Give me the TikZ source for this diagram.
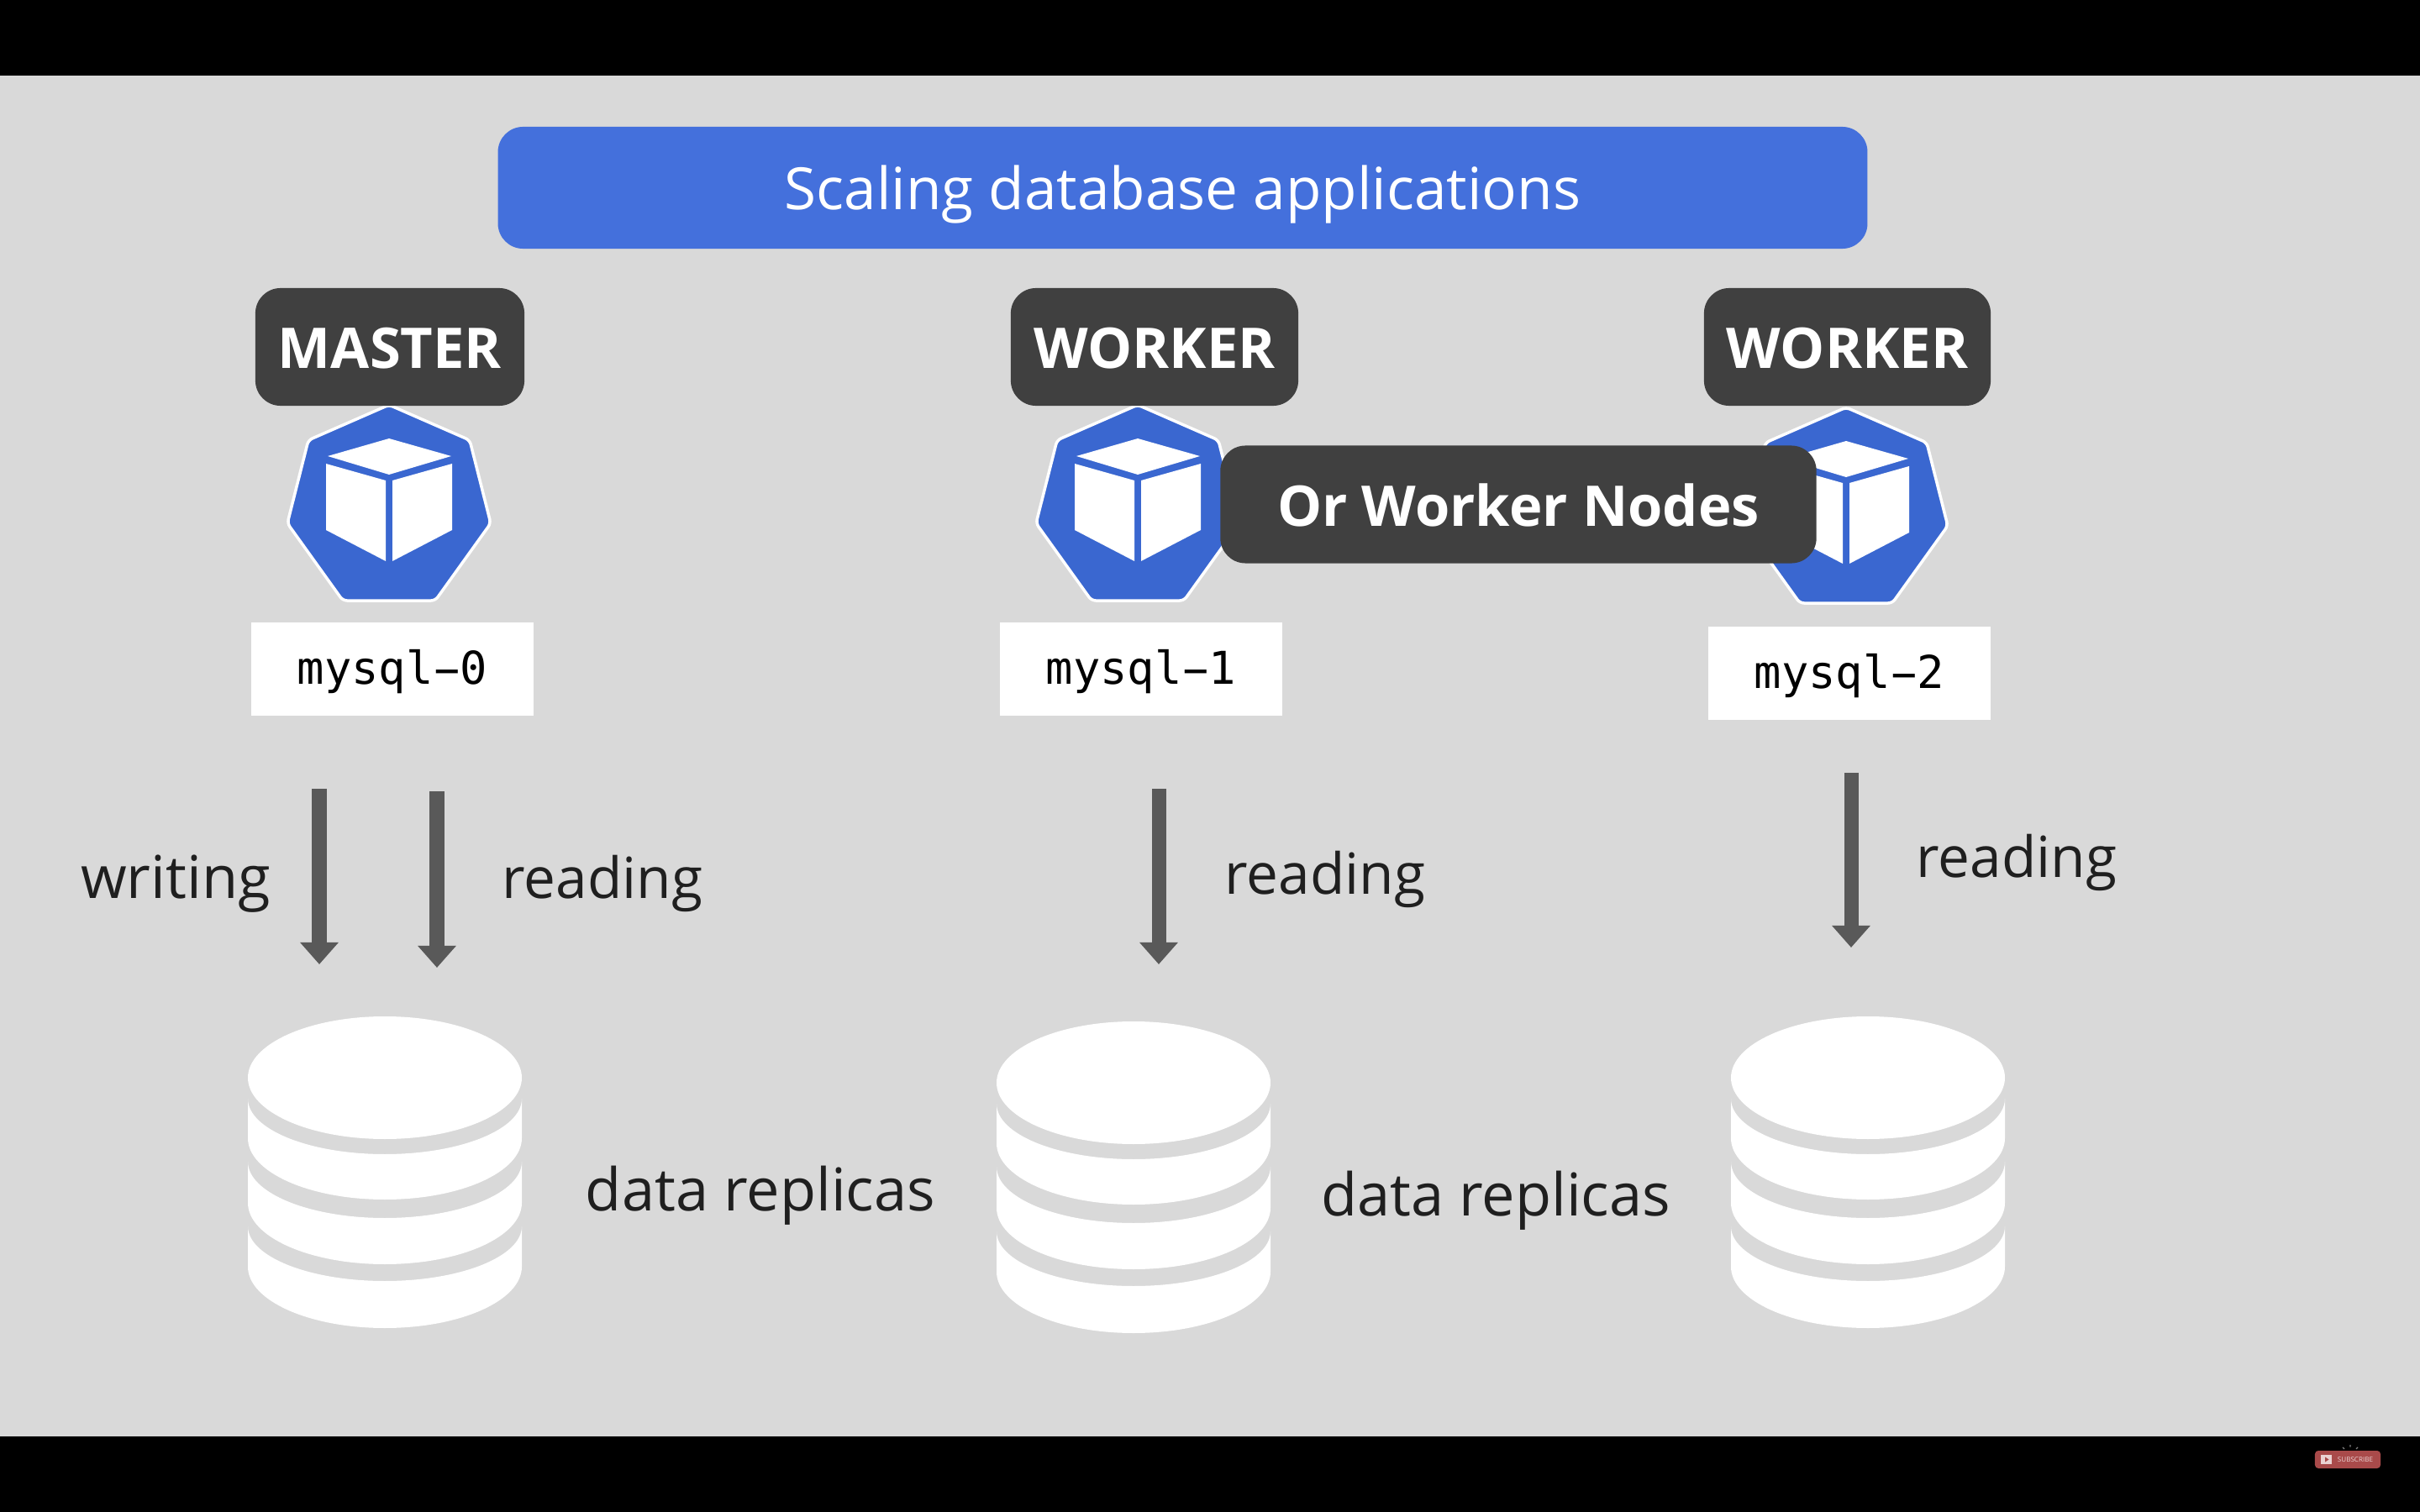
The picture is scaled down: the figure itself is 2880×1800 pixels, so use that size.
\documentclass[tikz,border=0pt]{standalone}
\usepackage{fontspec}
\setmainfont{Open Sans}
\setmonofont{DejaVu Sans Mono}
\usetikzlibrary{arrows.meta, positioning}

\definecolor{slidegray}{HTML}{D9D9D9}
\definecolor{titleblue}{HTML}{4470DC}
\definecolor{kubeblue}{HTML}{3A67D0}
\definecolor{darkbox}{HTML}{404040}
\definecolor{arrowgray}{HTML}{595959}
\definecolor{subred}{HTML}{A94A4A}

% Stretched hyphen, the pod names have a long one
\newcommand{\podname}[1]{mysql\makebox[0.602em]{\scalebox{1.9}[1]{-}}#1}

\tikzset{
  rolebox/.style={fill=darkbox, rounded corners=0.3cm, inner sep=0pt, text=white,
    minimum height=1.4cm, text height=14.7pt, text depth=0pt, font=\fontsize{19pt}{23pt}\selectfont\bfseries},
  podbox/.style={fill=white, inner sep=0pt, minimum width=3.36cm, minimum height=1.11cm, text depth=1.6pt,
    font=\fontsize{15.3pt}{18pt}\selectfont\ttfamily, text=black},
  arrowlabel/.style={inner sep=0pt, text=black!88, font=\fontsize{19.2pt}{22pt}\selectfont},
  datalabel/.style={inner sep=0pt, text=black!88, font=\fontsize{20pt}{24pt}\selectfont},
  readarrow/.style={arrowgray, line width=0.17cm, -{Triangle[width=0.44cm, length=0.26cm]}},
  kubenode/.pic={
    \draw[fill=kubeblue, draw=white, line width=0.035cm, rounded corners=0.05cm]
      (0,0) -- (96,42) -- (121,141) -- (55,233) -- (-55,233) -- (-121,141) -- (-96,42) -- cycle;
    \fill[white] (0,40) -- (74,61) -- (0,83) -- (-73,61) -- cycle;
    \fill[white] (-75,70) -- (-4,90) -- (-4,186) -- (-75,149) -- cycle;
    \fill[white] (75,70) -- (4,90) -- (4,186) -- (75,149) -- cycle;
  },
  dbstack/.pic={
    \fill[white] (-163,98) arc[start angle=180, end angle=0, x radius=163, y radius=66]
      -- (163,145) arc[start angle=0, end angle=180, x radius=163, y radius=73] -- cycle;
    \fill[white] (-163,173) arc[start angle=180, end angle=0, x radius=163, y radius=67]
      -- (163,222) arc[start angle=0, end angle=180, x radius=163, y radius=73] -- cycle;
    \fill[white] (-163,250) arc[start angle=180, end angle=0, x radius=163, y radius=65]
      -- (163,298) arc[start angle=0, end angle=180, x radius=163, y radius=73] -- cycle;
    \fill[white] (0,73) ellipse[x radius=163, y radius=73];
  }
}

\begin{document}
\begin{tikzpicture}[x=0.01cm, y=-0.01cm]
\useasboundingbox (0,0) rectangle (2880,1800);

% Slide and video bars
\fill[black] (0,0) rectangle (2880,1800);
\fill[slidegray] (0,90) rectangle (2880,1710);

% Title
\node[fill=titleblue, rounded corners=0.3cm, inner sep=0pt, minimum width=16.29cm, minimum height=1.45cm,
  text depth=0pt, text=white, font=\fontsize{19.7pt}{24pt}\selectfont] (title) at (1407.5,223.5) {Scaling database applications};

% Kubernetes nodes
\pic at (463,482) {kubenode};
\pic at (1354,482) {kubenode};
\pic at (2197,485) {kubenode};

% Roles
\node[rolebox, minimum width=3.2cm] (master) at (464,413) {MASTER};
\node[rolebox, minimum width=3.42cm] (workerone) at (1374,413) {WORKER};
\node[rolebox, minimum width=3.41cm] (workertwo) at (2198.5,413) {WORKER};

% Pods
\node[podbox] (mysqlzero) at (467,796.5) {\podname{0}};
\node[podbox] (mysqlone) at (1358,796.5) {\podname{1}};
\node[podbox] (mysqltwo) at (2201,801.5) {\podname{2}};

% Read and write arrows
\coordinate (writetop) at (380,939);
\coordinate (writeend) at (380,1148);
\coordinate (readtop) at (520,942);
\coordinate (readend) at (520,1152);
\coordinate (readonetop) at (1379,939);
\coordinate (readoneend) at (1379,1148);
\coordinate (readtwotop) at (2203,920);
\coordinate (readtwoend) at (2203,1128);
\draw[readarrow] (writetop) -- (writeend);
\draw[readarrow] (readtop) -- (readend);
\draw[readarrow] (readonetop) -- (readoneend);
\draw[readarrow] (readtwotop) -- (readtwoend);

\node[datalabel] (writelabel) at (209,1052) {writing};
\node[arrowlabel] (readlabel) at (717,1052) {reading};
\node[arrowlabel] (readonelabel) at (1577,1047) {reading};
\node[arrowlabel] (readtwolabel) at (2400,1027) {reading};

% Databases
\pic at (458,1210) {dbstack};
\pic at (1349,1216) {dbstack};
\pic at (2223,1210) {dbstack};

\node[datalabel] (replicaone) at (905,1423) {data replicas};
\node[datalabel] (replicatwo) at (1780,1429) {data replicas};

% Overlay box
\node[rolebox, minimum width=7.09cm] (ornodes) at (1807,600.5) {Or Worker Nodes};

% Subscribe button
\node[fill=subred, rounded corners=0.04cm, inner sep=0pt, minimum width=0.78cm, minimum height=0.21cm] (subscribe) at (2794,1737.5) {};
\node[inner sep=0pt, text=white!75!subred, font=\fontsize{2.3pt}{3pt}\selectfont] (subtext) at (2803,1737.5) {SUBSCRIBE};
\fill[white!75!subred] (2762,1732) rectangle (2775,1743);
\fill[subred] (2767,1734.5) -- (2771.5,1737.5) -- (2767,1740.5) -- cycle;
\draw[gray, line width=0.012cm] (2788,1723) -- (2790,1725) (2797,1720) -- (2797,1722.5) (2806,1723) -- (2804,1725);
\end{tikzpicture}
\end{document}
